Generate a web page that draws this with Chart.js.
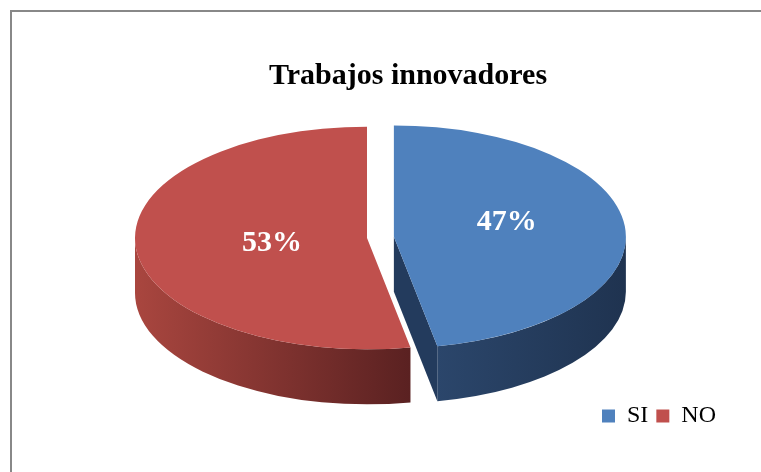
<!DOCTYPE html>
<html>
<head>
<meta charset="utf-8">
<title>Trabajos innovadores</title>
<script src="https://cdn.jsdelivr.net/npm/chart.js"></script>
<style>
body{margin:0;background:#fff;overflow:hidden;}
#frame{position:absolute;left:10px;top:10px;width:900px;height:600px;border-top:2px solid #888;border-left:2px solid #888;}
#box{position:absolute;left:0;top:0;width:761px;height:472px;}
</style>
</head>
<body>
<div id="frame"></div>
<div id="box"><canvas id="chart"></canvas></div>
<script>
let categories = ["SI","NO"];
let values = [47,53];

let topColors = ["#4f81bd","#c0504d"];
let wallColors = [["#2b466b","#1f3350"],["#a9463f","#5a2121"]];
let cutColors = ["#233b5d","#5e2222"];
let explode = [27,0];

let pieX = 367;
let pieY = 238;
let tilt = 0.48;
let depth = 55;
let serif = "'Liberation Serif','Times New Roman',serif";

// fake 3d: squash the pie, add walls under it
const pie3d = {
id:"pie3d",
beforeDatasetsDraw(chart){
const ctx = chart.ctx;
const arcs = chart.getDatasetMeta(0).data;
const cx = arcs[0].x, cy = arcs[0].y;
const d = depth / tilt;
const total = values.reduce((a,b)=>a+b,0);

ctx.save();
ctx.translate(pieX - cx, pieY);
ctx.scale(1, tilt);
ctx.translate(0, -cy);

arcs.forEach(function(arc,i){
const r = arc.outerRadius;
const s = arc.startAngle, e = arc.endAngle;
const mid = (s+e)/2;
ctx.save();
ctx.translate(Math.cos(mid)*explode[i], Math.sin(mid)*explode[i]);

let a = Math.max(s,0), b = Math.min(e,Math.PI);
if(b > a){
let x1 = cx + r*Math.cos(a), x2 = cx + r*Math.cos(b);
let g = ctx.createLinearGradient(Math.min(x1,x2),0,Math.max(x1,x2),0);
g.addColorStop(0,wallColors[i][0]);
g.addColorStop(1,wallColors[i][1]);
ctx.fillStyle = g;
ctx.beginPath();
ctx.arc(cx,cy,r,a,b);
ctx.arc(cx,cy+d,r,b,a,true);
ctx.closePath();
ctx.fill();
}

[[s,Math.cos(s) < -0.001],[e,Math.cos(e) > 0.001]].forEach(function(edge){
if(!edge[1]) return;
let px = cx + r*Math.cos(edge[0]), py = cy + r*Math.sin(edge[0]);
ctx.fillStyle = cutColors[i];
ctx.beginPath();
ctx.moveTo(cx,cy);
ctx.lineTo(px,py);
ctx.lineTo(px,py+d);
ctx.lineTo(cx,cy+d);
ctx.closePath();
ctx.fill();
});
ctx.restore();
});

arcs.forEach(function(arc,i){
const mid = (arc.startAngle+arc.endAngle)/2;
ctx.save();
ctx.translate(Math.cos(mid)*explode[i], Math.sin(mid)*explode[i]);
arc.draw(ctx);
ctx.restore();
});
ctx.restore();

// percent labels
ctx.save();
ctx.fillStyle = "#fff";
ctx.font = "bold 30px " + serif;
ctx.textAlign = "center";
ctx.textBaseline = "middle";
arcs.forEach(function(arc,i){
const mid = (arc.startAngle+arc.endAngle)/2;
const rr = arc.outerRadius*0.45;
let x = pieX + 9 + Math.cos(mid)*(explode[i]+rr);
let y = pieY - 4 + Math.sin(mid)*(explode[i]+rr)*tilt*2;
ctx.fillText(Math.round(values[i]/total*100) + "%", x, y);
});
ctx.restore();
return false;
}
};

new Chart(document.getElementById("chart"),{
type:"pie",
data:{
labels:categories,
datasets:[{
data:values,
backgroundColor:topColors,
borderWidth:0,
radius:232
}]
},
options:{
responsive:true,
maintainAspectRatio:false,
animation:false,
events:[],
layout:{
padding:{left:92,right:37,top:12,bottom:34}
},
plugins:{
title:{
display:true,
text:"Trabajos innovadores",
color:"#000",
font:{family:serif,size:30,weight:"bold"},
padding:{top:46,bottom:10}
},
legend:{
position:"bottom",
align:"end",
labels:{
color:"#000",
font:{family:serif,size:24},
boxWidth:13,
boxHeight:13,
padding:8
}
},
tooltip:{enabled:false}
}
},
plugins:[pie3d]
});
</script>
</body>
</html>
